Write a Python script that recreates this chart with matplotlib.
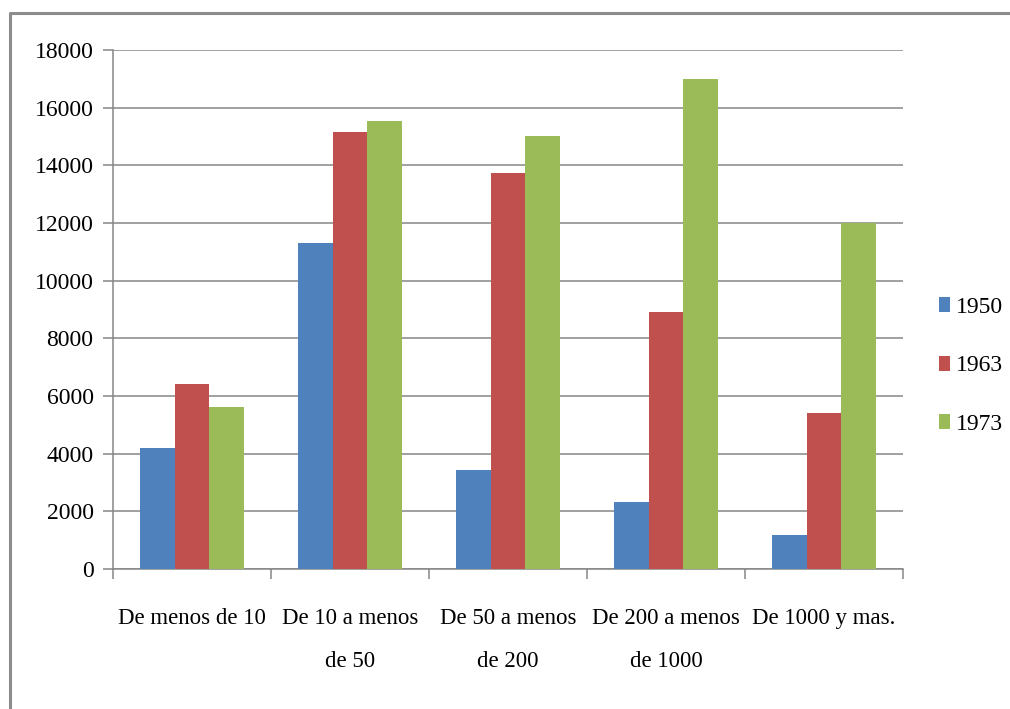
import numpy as np
import matplotlib
matplotlib.use("Agg")
import matplotlib.pyplot as plt
from matplotlib.lines import Line2D

plt.rcParams["font.family"] = ["Liberation Serif", "DejaVu Serif"]

# Data
categories = ["De menos de 10", "De 10 a menos\nde 50", "De 50 a menos\nde 200",
              "De 200 a menos\nde 1000", "De 1000 y mas."]
years = ["1950", "1963", "1973"]
v1950 = [4190, 11300, 3440, 2310, 1170]
v1963 = [6420, 15150, 13720, 8900, 5420]
v1973 = [5610, 15550, 15020, 16980, 12000]
yticks = [0, 2000, 4000, 6000, 8000, 10000, 12000, 14000, 16000, 18000]

colors = ["#4F81BD", "#C0504D", "#9BBB59"]
grey = "#868686"

fig = plt.figure(figsize=(10.1, 7.09), dpi=100)
ax = fig.add_axes([113 / 1010, 1 - 569 / 709, 790 / 1010, 519 / 709])

x = np.arange(len(categories))
w = 0.218
for i, (vals, lab) in enumerate(zip([v1950, v1963, v1973], years)):
    ax.bar(x + (i - 1) * w, vals, width=w, color=colors[i], label=lab,
           zorder=3, linewidth=0)

ax.set_xlim(-0.5, len(categories) - 0.5)
ax.set_ylim(0, 18000)
ax.set_yticks(yticks)
ax.set_yticklabels([str(t) for t in yticks], fontsize=17)
ax.yaxis.grid(True, color=grey, linewidth=1.1, zorder=0)

ax.set_xticks(x)
ax.set_xticklabels(categories, fontsize=16.5, linespacing=2.4)
ax.set_xticks(np.arange(-0.5, len(categories)), minor=True)
ax.tick_params(axis="x", which="major", length=0, pad=28)
ax.tick_params(axis="x", which="minor", length=7, color=grey, width=1.1)
ax.tick_params(axis="y", length=7, color=grey, width=1.1, pad=7)

for s in ["top", "right"]:
    ax.spines[s].set_visible(False)
for s in ["left", "bottom"]:
    ax.spines[s].set_color(grey)
    ax.spines[s].set_linewidth(1.1)

ax.legend(loc="center left", bbox_to_anchor=(939 / 1010, 1 - 366 / 709),
          bbox_transform=fig.transFigure, frameon=False, fontsize=17,
          handlelength=0.45, handleheight=0.6, handletextpad=0.25,
          labelspacing=1.6, borderpad=0, borderaxespad=0)

# outer chart frame, only its left and top edges are in the picture
fx, fy = 10 / 1010, 1 - 13 / 709
fig.add_artist(Line2D([fx, fx, 1.0], [0.0, fy, fy], transform=fig.transFigure,
                      color="#8c8c8c", linewidth=2.2))

fig.savefig("out.png", dpi=100)
